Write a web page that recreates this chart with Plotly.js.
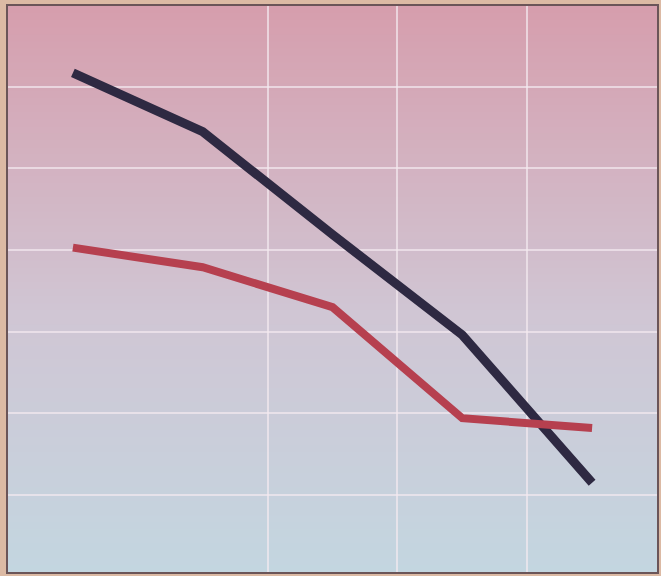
<!DOCTYPE html>
<html>
<head>
<meta charset="utf-8">
<script src="https://cdn.plot.ly/plotly-3.0.1.min.js"></script>
<style>
  html, body { margin: 0; padding: 0; background: #dcbaa4; }
  #chart { width: 661px; height: 576px; }
</style>
</head>
<body>
<div id="chart"></div>
<script>
// Five periods along the x axis, two declining series
const periods = [0, 1, 2, 3, 4];
const seriesDark = [6.17, 5.45, 4.19, 2.96, 1.15];
const seriesRed = [4.03, 3.79, 3.30, 1.94, 1.82];

// Grid positions
const xGrid = [1.5, 2.5, 3.5];
const yGrid = [1, 2, 3, 4, 5, 6];

// Background gradient stops (bottom -> top)
const gradStops = [
  [0.0, [195, 214, 224]],
  [0.45, [208, 198, 212]],
  [1.0, [214, 158, 173]]
];

function gradColor(t) {
  for (let i = 0; i < gradStops.length - 1; i++) {
    const [t0, c0] = gradStops[i];
    const [t1, c1] = gradStops[i + 1];
    if (t >= t0 && t <= t1) {
      const f = (t - t0) / (t1 - t0);
      const c = c0.map((v, k) => Math.round(v + (c1[k] - v) * f));
      return `rgb(${c[0]},${c[1]},${c[2]})`;
    }
  }
  const c = gradStops[gradStops.length - 1][1];
  return `rgb(${c[0]},${c[1]},${c[2]})`;
}

// Vertical gradient made of thin horizontal bands under the grid
const nBands = 80;
const bands = [];
for (let i = 0; i < nBands; i++) {
  bands.push({
    type: 'rect', xref: 'paper', yref: 'paper', layer: 'below',
    x0: 0, x1: 1, y0: i / nBands, y1: (i + 1) / nBands + 0.002,
    line: { width: 0 }, fillcolor: gradColor((i + 0.5) / nBands)
  });
}

const traces = [
  {
    x: periods, y: seriesDark, type: 'scatter', mode: 'lines',
    line: { color: '#2e2942', width: 9 }, hoverinfo: 'skip'
  },
  {
    x: periods, y: seriesRed, type: 'scatter', mode: 'lines',
    line: { color: '#b6404f', width: 8 }, hoverinfo: 'skip'
  }
];

const gridColor = 'rgba(243,234,240,0.7)';

const layout = {
  width: 661, height: 576,
  margin: { l: 8, r: 4, t: 6, b: 4 },
  paper_bgcolor: '#dcbaa4',
  plot_bgcolor: 'rgba(0,0,0,0)',
  showlegend: false,
  shapes: bands,
  xaxis: {
    range: [-0.5, 4.5],
    tickvals: xGrid, showticklabels: false, ticks: '',
    showgrid: true, gridcolor: gridColor, gridwidth: 2,
    zeroline: false,
    showline: true, mirror: true, linecolor: '#6b5558', linewidth: 2
  },
  yaxis: {
    range: [0.056, 6.99],
    tickvals: yGrid, showticklabels: false, ticks: '',
    showgrid: true, gridcolor: gridColor, gridwidth: 2,
    zeroline: false,
    showline: true, mirror: true, linecolor: '#6b5558', linewidth: 2
  }
};

Plotly.newPlot('chart', traces, layout, { staticPlot: true, displayModeBar: false });
</script>
</body>
</html>
